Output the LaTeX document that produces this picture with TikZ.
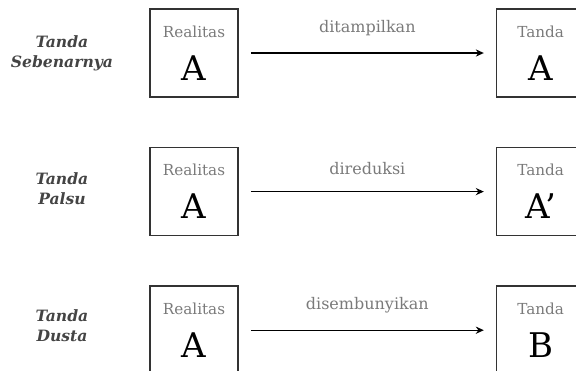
\documentclass[tikz,border=0pt]{standalone}
\usepackage{fontspec}
\setmainfont{DejaVu Serif}
\usetikzlibrary{positioning, arrows.meta}
\definecolor{boxgray}{HTML}{333333}
\definecolor{textgray}{HTML}{7A7A7A}
\definecolor{rowgray}{HTML}{444444}
\tikzset{
  % Sign diagram
  signbox/.style   = { draw=boxgray, line width=0.8pt, minimum width=44pt,
                       minimum height=44pt, inner sep=0, align=center },
  rowlabel/.style  = { text width=62pt, align=center, text=rowgray,
                       font=\fontsize{7.8}{10}\selectfont\bfseries\itshape },
  signflow/.style  = { line width=0.7pt, -{Stealth[length=4pt, width=3.6pt]} },
  flowlabel/.style = { font=\fontsize{8}{9}\selectfont, text=textgray,
                       above=7pt, inner sep=1pt }
}
\newcommand{\signtext}[2]{%
  {\fontsize{7.6}{9}\selectfont\color{textgray}#1}\\[8pt]%
  {\fontsize{17}{18}\selectfont #2}}

\begin{document}
\begin{tikzpicture}

  \clip (0pt,0pt) rectangle (288pt,-185pt);

  \node[signbox] (real1) at (97pt,-26.5pt) {\signtext{Realitas}{A}};
  \node[signbox, right=128.5pt of real1] (sign1) {\signtext{Tanda}{A}};
  \node[rowlabel] (row1) at (31pt,-26.5pt) {Tanda\\Sebenarnya};

  \node[signbox, below=24.5pt of real1] (real2) {\signtext{Realitas}{A}};
  \node[signbox, right=128.5pt of real2] (sign2) {\signtext{Tanda}{A’}};
  \node[rowlabel] (row2) at (31pt,-94.5pt) {Tanda\\Palsu};

  \node[signbox, below=24.5pt of real2] (real3) {\signtext{Realitas}{A}};
  \node[signbox, right=128.5pt of real3] (sign3) {\signtext{Tanda}{B}};
  \node[rowlabel] (row3) at (31pt,-163pt) {Tanda\\Dusta};

  \draw[signflow] ([xshift=6pt]real1.east) -- node[flowlabel]{ditampilkan} ([xshift=-6pt]sign1.west);
  \draw[signflow] ([xshift=6pt]real2.east) -- node[flowlabel]{direduksi} ([xshift=-6pt]sign2.west);
  \draw[signflow] ([xshift=6pt]real3.east) -- node[flowlabel]{disembunyikan} ([xshift=-6pt]sign3.west);

\end{tikzpicture}
\end{document}
